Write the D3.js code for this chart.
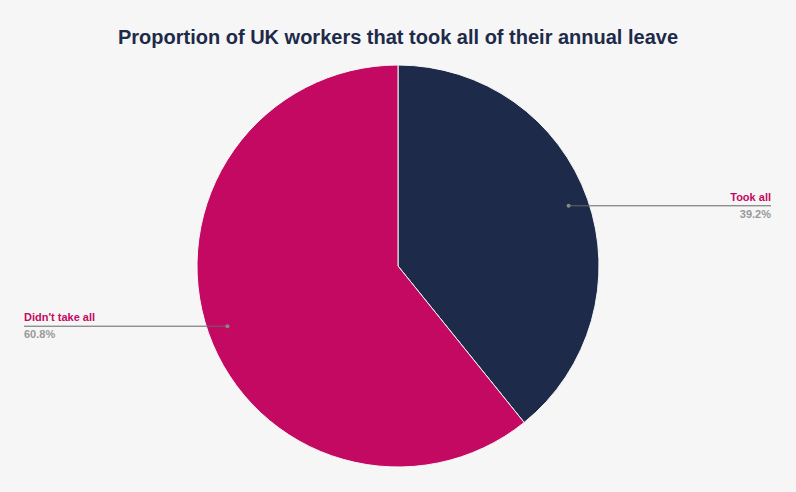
<!DOCTYPE html><html><head><meta charset="utf-8"><script src="https://cdn.jsdelivr.net/npm/d3@7"></script>
<style>body{margin:0;background:#f5f6f5}</style></head><body><svg id="c" width="796" height="492"></svg>
<script>
const categories=["Took all","Didn't take all"];
const values=[39.2,60.8];
const colors=["#1e2a4a","#c40963"];
const svg=d3.select("#c");
svg.append("rect").attr("width",796).attr("height",492).attr("fill","#f5f6f5");
svg.append("text").attr("x",398).attr("y",44).attr("text-anchor","middle").attr("font-family","Liberation Sans, Arial").attr("font-weight","bold").attr("font-size",20).attr("fill","#1e2a4a").text("Proportion of UK workers that took all of their annual leave");
const cx=398,cy=266,r=201;
const pie=d3.pie().sort(null).value(d=>d)(values);
const arc=d3.arc().innerRadius(0).outerRadius(r);
const g=svg.append("g").attr("transform",`translate(${cx},${cy})`);
g.selectAll("path").data(pie).join("path").attr("d",arc).attr("fill",(d,i)=>colors[i]).attr("stroke","#f5f6f5").attr("stroke-width",1);
const inner=d3.arc().innerRadius(r*0.9).outerRadius(r*0.9);
pie.forEach((d,i)=>{
 const [px,py]=inner.centroid(d);
 const x=cx+px,y=cy+py;
 const right=i===0;
 const ex=right?771:24;
 svg.append("line").attr("x1",x).attr("y1",y).attr("x2",ex).attr("y2",y).attr("stroke","#666").attr("stroke-width",1);
 svg.append("circle").attr("cx",x).attr("cy",y).attr("r",2).attr("fill","#888");
 const anc=right?"end":"start";
 svg.append("text").attr("x",ex).attr("y",y-5).attr("text-anchor",anc).attr("font-family","Liberation Sans, Arial").attr("font-weight","bold").attr("font-size",11).attr("fill","#c40963").text(categories[i]);
 svg.append("text").attr("x",ex).attr("y",y+12).attr("text-anchor",anc).attr("font-family","Liberation Sans, Arial").attr("font-weight","bold").attr("font-size",11).attr("fill","#999").text(values[i].toFixed(1)+"%");
});
</script></body></html>
